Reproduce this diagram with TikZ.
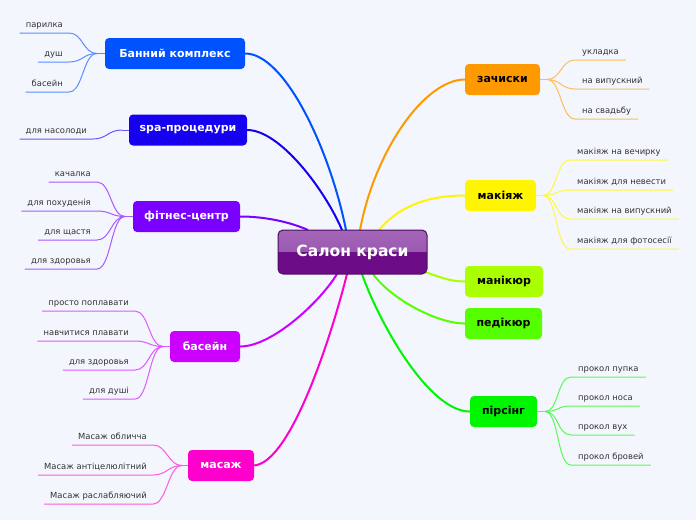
\documentclass[tikz,border=0pt]{standalone}
\usepackage{fontspec}
\setmainfont{DejaVu Sans}
\pgfdeclarelayer{bgl}
\pgfdeclarelayer{edges}
\pgfsetlayers{bgl,edges,main}
\definecolor{bgc}{RGB}{244,246,254}
\definecolor{txt}{RGB}{51,51,51}
\definecolor{cBan}{RGB}{0,82,255}
\definecolor{cSpa}{RGB}{21,0,240}
\definecolor{cFit}{RGB}{122,0,255}
\definecolor{cBas}{RGB}{204,0,255}
\definecolor{cMas}{RGB}{255,0,204}
\definecolor{cZac}{RGB}{255,153,0}
\definecolor{cMak}{RGB}{255,245,0}
\definecolor{cMan}{RGB}{170,255,0}
\definecolor{cPed}{RGB}{85,255,0}
\definecolor{cPir}{RGB}{0,245,0}
\definecolor{cTop}{RGB}{164,102,184}
\definecolor{cTopB}{RGB}{146,76,170}
\definecolor{cBot}{RGB}{108,12,134}
\definecolor{cBrd}{RGB}{77,11,99}
\tikzset{
  branch/.style={rounded corners=4pt, minimum height=31pt, inner sep=0pt,
    font=\fontsize{11}{13}\selectfont\bfseries},
  lchild/.style={anchor=south east, inner xsep=6pt, inner ysep=5pt, text height=6pt, text depth=0pt,
    font=\fontsize{8.4}{9}\selectfont, text=txt},
  rchild/.style={anchor=south west, inner xsep=7pt, inner ysep=5pt, text height=6pt, text depth=0pt,
    font=\fontsize{8.4}{9}\selectfont, text=txt},
  mainline/.style={line width=2pt},
  childline/.style={line width=1pt},
}
\begin{document}
\begin{tikzpicture}[x=1pt,y=-1pt]
\begin{pgfonlayer}{bgl}
\fill[bgc] (0,0) rectangle (696,520);
\end{pgfonlayer}
\useasboundingbox (0,0) rectangle (696,520);

% central node
\node[draw=cBrd, line width=1pt, rounded corners=5pt, minimum width=149pt, minimum height=44pt,
  inner sep=0pt, text=white, font=\fontsize{15.5}{17}\selectfont\bfseries,
  path picture={
    \fill[sharp corners, top color=cTop, bottom color=cTopB] (path picture bounding box.north west) rectangle (path picture bounding box.east);
    \fill[sharp corners, cBot] (path picture bounding box.west) rectangle (path picture bounding box.south east);
  }] (c) at (352.5,252) {Салон краси};

% branch nodes
\node[branch, fill=cBan, text=white, minimum width=140pt] (ban) at (175,53.5) {Банний комплекс};
\node[branch, fill=cSpa, text=white, minimum width=118pt] (spa) at (188,130) {spa-процедури};
\node[branch, fill=cFit, text=white, minimum width=107pt] (fit) at (186.5,216.5) {фітнес-центр};
\node[branch, fill=cBas, text=white, minimum width=70pt] (bas) at (205,346.5) {басейн};
\node[branch, fill=cMas, text=white, minimum width=66pt] (mas) at (221,465.5) {масаж};
\node[branch, fill=cZac, text=black, minimum width=75pt] (zac) at (502.5,79.5) {зачиски};
\node[branch, fill=cMak, text=black, minimum width=71pt] (mak) at (500.5,195.5) {макіяж};
\node[branch, fill=cMan, text=black, minimum width=78pt] (man) at (504,281.5) {манікюр};
\node[branch, fill=cPed, text=black, minimum width=77pt] (ped) at (503.5,323.5) {педікюр};
\node[branch, fill=cPir, text=black, minimum width=67pt] (pir) at (503.5,411.5) {пірсінг};

% junctions
\coordinate (jban) at (97,53.5);
\coordinate (jspa) at (122,130);
\coordinate (jfit) at (125,216.5);
\coordinate (jbas) at (163,346.5);
\coordinate (jmas) at (182,465.5);
\coordinate (jzac) at (547,79.5);
\coordinate (jmak) at (543,195.5);
\coordinate (jpir) at (545,411.5);

% endpoints on central node
\coordinate (eban) at (346,230);
\coordinate (espa) at (342,230);
\coordinate (efit) at (308,230);
\coordinate (ezac) at (360,230);
\coordinate (emak) at (379,230);
\coordinate (ebas) at (337,274);
\coordinate (emas) at (347,274);
\coordinate (epir) at (362,274);
\coordinate (eped) at (373,274);
\coordinate (eman) at (422,271);

\begin{pgfonlayer}{edges}
\draw[mainline, cBan] (ban.east) .. controls (285,53.5) and (330,150) .. (eban);
\draw[mainline, cSpa] (spa.east) .. controls (280,130) and (325,190) .. (espa);
\draw[mainline, cFit] (fit.east) .. controls (265,216.5) and (290,222) .. (efit);
\draw[mainline, cBas] (bas.east) .. controls (272,346.5) and (320,302) .. (ebas);
\draw[mainline, cMas] (mas.east) .. controls (292,462) and (333,330) .. (emas);
\draw[mainline, cZac] (zac.west) .. controls (425,79.5) and (375,150) .. (ezac);
\draw[mainline, cMak] (mak.west) .. controls (430,195.5) and (400,205) .. (emak);
\draw[mainline, cMan] (man.west) .. controls (448,281.5) and (435,275) .. (eman);
\draw[mainline, cPed] (ped.west) .. controls (438,323.5) and (392,300) .. (eped);
\draw[mainline, cPir] (pir.west) .. controls (428,411.5) and (378,320) .. (epir);
\end{pgfonlayer}

% left children
\draw[childline, cBan!65!white] (jban) -- (ban.west);
\foreach \t/\y [count=\i] in {парилка/33, душ/62, басейн/92} {
  \node[lchild] (ban\i) at (69,\y) {\t};
  \draw[childline, cBan!65!white] (ban\i.south west) -- (ban\i.south east) .. controls +(14,0) and +(-14,0) .. (jban);
}
\draw[childline, cSpa!65!white] (jspa) -- (spa.west);
\node[lchild] (spa1) at (93,139) {для насолоди};
\draw[childline, cSpa!65!white] (spa1.south west) -- (spa1.south east) .. controls +(14,0) and +(-14,0) .. (jspa);

\draw[childline, cFit!65!white] (jfit) -- (fit.west);
\foreach \t/\y [count=\i] in {качалка/182, для похуденія/211, для щастя/240, для здоровья/269} {
  \node[lchild] (fit\i) at (97,\y) {\t};
  \draw[childline, cFit!65!white] (fit\i.south west) -- (fit\i.south east) .. controls +(14,0) and +(-14,0) .. (jfit);
}
\draw[childline, cBas!65!white] (jbas) -- (bas.west);
\foreach \t/\y [count=\i] in {просто поплавати/311, навчитися плавати/341, для здоровья/370, для душі/399} {
  \node[lchild] (bas\i) at (135,\y) {\t};
  \draw[childline, cBas!65!white] (bas\i.south west) -- (bas\i.south east) .. controls +(14,0) and +(-14,0) .. (jbas);
}
\draw[childline, cMas!65!white] (jmas) -- (mas.west);
\foreach \t/\y [count=\i] in {Масаж обличча/445, Масаж антіцелюлітний/475, Масаж раслабляючий/504} {
  \node[lchild] (mas\i) at (153,\y) {\t};
  \draw[childline, cMas!65!white] (mas\i.south west) -- (mas\i.south east) .. controls +(14,0) and +(-14,0) .. (jmas);
}

% right children
\draw[childline, cZac!65!white] (zac.east) -- (jzac);
\foreach \t/\y [count=\i] in {укладка/60, на випускний/89, на свадьбу/119} {
  \node[rchild] (zac\i) at (575,\y) {\t};
  \draw[childline, cZac!65!white] (jzac) .. controls +(14,0) and +(-14,0) .. (zac\i.south west) -- (zac\i.south east);
}
\draw[childline, cMak!75!white] (mak.east) -- (jmak);
\foreach \t/\y [count=\i] in {макіяж на вечирку/160, макіяж для невести/190, макіяж на випускний/219, макіяж для фотосесії/249} {
  \node[rchild] (mak\i) at (570,\y) {\t};
  \draw[childline, cMak!75!white] (jmak) .. controls +(14,0) and +(-14,0) .. (mak\i.south west) -- (mak\i.south east);
}
\draw[childline, cPir!65!white] (pir.east) -- (jpir);
\foreach \t/\y [count=\i] in {прокол пупка/377, прокол носа/406, прокол вух/435, прокол бровей/465} {
  \node[rchild] (pir\i) at (571,\y) {\t};
  \draw[childline, cPir!65!white] (jpir) .. controls +(14,0) and +(-14,0) .. (pir\i.south west) -- (pir\i.south east);
}
\end{tikzpicture}
\end{document}
